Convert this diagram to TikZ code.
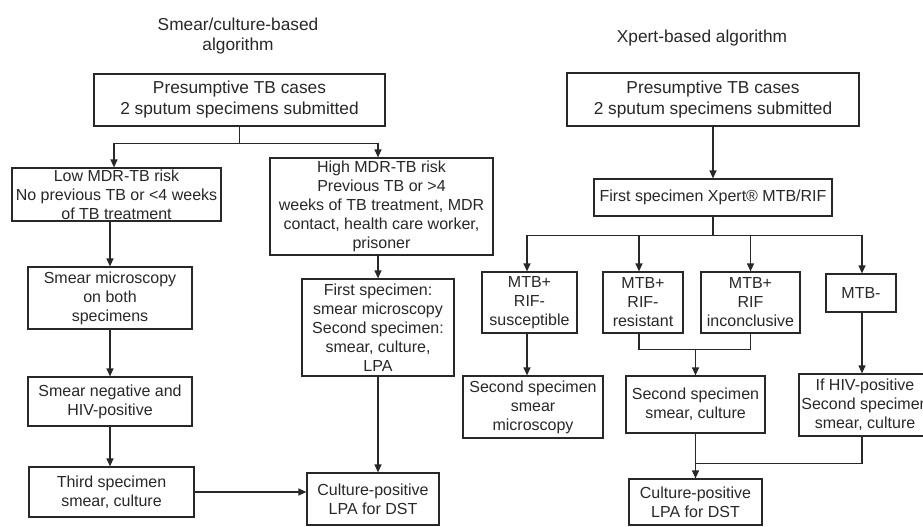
\documentclass[tikz,border=0pt]{standalone}
\usepackage{fontspec}
\setmainfont{Liberation Sans}
\usetikzlibrary{arrows.meta}
\definecolor{ink}{RGB}{40,40,40}
\newcommand{\bigf}{\fontsize{17.3}{21}\selectfont}
\newcommand{\titf}{\fontsize{17.3}{20}\selectfont}
\newcommand{\smf}{\fontsize{16}{19}\selectfont}
\begin{document}
\begin{tikzpicture}[x=1pt,y=1pt,
 box/.style={draw=ink, text=ink, line width=1.2pt, inner sep=0pt, align=center, font=\smf},
 bigbox/.style={box, font=\bigf},
 conn/.style={draw=ink, line width=1.2pt},
 arr/.style={conn, -{Triangle[length=8pt,width=7pt]}},
 title/.style={text=ink, align=center, font=\titf, inner sep=0pt}]
\useasboundingbox (0,0) rectangle (923,-527);
\clip (0,0) rectangle (923,-527);
\fill[white] (0,0) rectangle (923,-527);

% titles
\node[title] (t1) at (238,-36) {Smear/culture-based\\algorithm};
\node[title] (t2) at (702,-38) {Xpert-based algorithm};

% left algorithm
\node[bigbox, minimum width=291, minimum height=52] (ltop) at (239.5,-100) {Presumptive TB cases\\2 sputum specimens submitted};
\node[box, minimum width=209, minimum height=53] (low) at (116.5,-194.5) {Low MDR-TB risk\\No previous TB or <4 weeks\\of TB treatment};
\node[box, minimum width=223, minimum height=97] (high) at (381.5,-206.5) {High MDR-TB risk\\Previous TB or >4\\weeks of TB treatment, MDR\\contact, health care worker,\\prisoner};
\node[box, minimum width=164, minimum height=62] (smic) at (110,-298) {Smear microscopy\\on both\\specimens};
\node[box, minimum width=164, minimum height=49] (sneg) at (110,-401.5) {Smear negative and\\HIV-positive};
\node[box, minimum width=165, minimum height=50] (third) at (111.5,-492) {Third specimen\\smear, culture};
\node[box, minimum width=152, minimum height=97] (first) at (378,-327.5) {First specimen:\\smear microscopy\\Second specimen:\\smear, culture,\\LPA};
\node[box, minimum width=132, minimum height=52] (cultl) at (373,-499) {Culture-positive\\LPA for DST};

% right algorithm
\node[bigbox, minimum width=292, minimum height=53] (rtop) at (713,-99.5) {Presumptive TB cases\\2 sputum specimens submitted};
\node[box, minimum width=238, minimum height=37] (xpert) at (713,-197.5) {First specimen Xpert® MTB/RIF};
\node[box, minimum width=95, minimum height=61] (susc) at (529.5,-302.5) {MTB+\\RIF-\\susceptible};
\node[box, minimum width=80, minimum height=61] (res) at (643,-302.5) {MTB+\\RIF-\\resistant};
\node[box, minimum width=99, minimum height=61] (inc) at (750.5,-302.5) {MTB+\\RIF\\inconclusive};
\node[box, minimum width=70, minimum height=38] (neg) at (861,-293) {MTB-};
\node[box, minimum width=140, minimum height=62] (sm2) at (533,-407) {Second specimen\\smear\\microscopy};
\node[box, minimum width=139, minimum height=57] (sc2) at (695.5,-404.5) {Second specimen\\smear, culture};
\node[box, minimum width=132, minimum height=62] (hiv) at (865,-405) {If HIV-positive\\Second specimen\\smear, culture};
\node[box, minimum width=133, minimum height=46] (cultr) at (695.5,-502) {Culture-positive\\LPA for DST};

% left connectors
\draw[conn] (ltop.south) -- ++(0,-17) coordinate (ls);
\draw[arr] (ls) -| ([xshift=-2.5pt]low.north);
\draw[arr] (ls) -| (first.north |- high.north);
\draw[arr] (smic.north |- low.south) -- (smic.north);
\draw[arr] (smic.south) -- (sneg.north);
\draw[arr] (sneg.south) -- (sneg.south |- third.north);
\draw[arr] (first.north |- high.south) -- (first.north);
\draw[arr] (first.south) -- (first.south |- cultl.north);
\draw[arr] (third.east) -- (third.east -| cultl.west);

% right connectors
\draw[arr] (rtop.south) -- (xpert.north);
\draw[conn] (xpert.south) -- ++(0,-19) coordinate (rs);
\draw[arr] (rs) -| ([xshift=-2.5pt]susc.north);
\draw[arr] (rs) -| ([xshift=-4pt]res.north);
\draw[arr] (rs) -| (inc.north);
\draw[arr] (rs) -| ([xshift=1pt]neg.north);
\draw[arr] ([xshift=-2.5pt]susc.south) -- ([xshift=-2.5pt]susc.south |- sm2.north);
\draw[conn] ([xshift=-4pt]res.south) -- ++(0,-16) coordinate (rm) -| (inc.south);
\draw[arr] (rm -| sc2.north) -- (sc2.north);
\draw[arr] ([xshift=1pt]neg.south) -- ([xshift=1pt]neg.south |- hiv.north);
\draw[conn] (sc2.south) -- ++(0,-30) coordinate (m2);
\draw[conn] ([xshift=1pt]neg.south |- hiv.south) |- (m2);
\draw[arr] (m2) -- (cultr.north);
\end{tikzpicture}
\end{document}
